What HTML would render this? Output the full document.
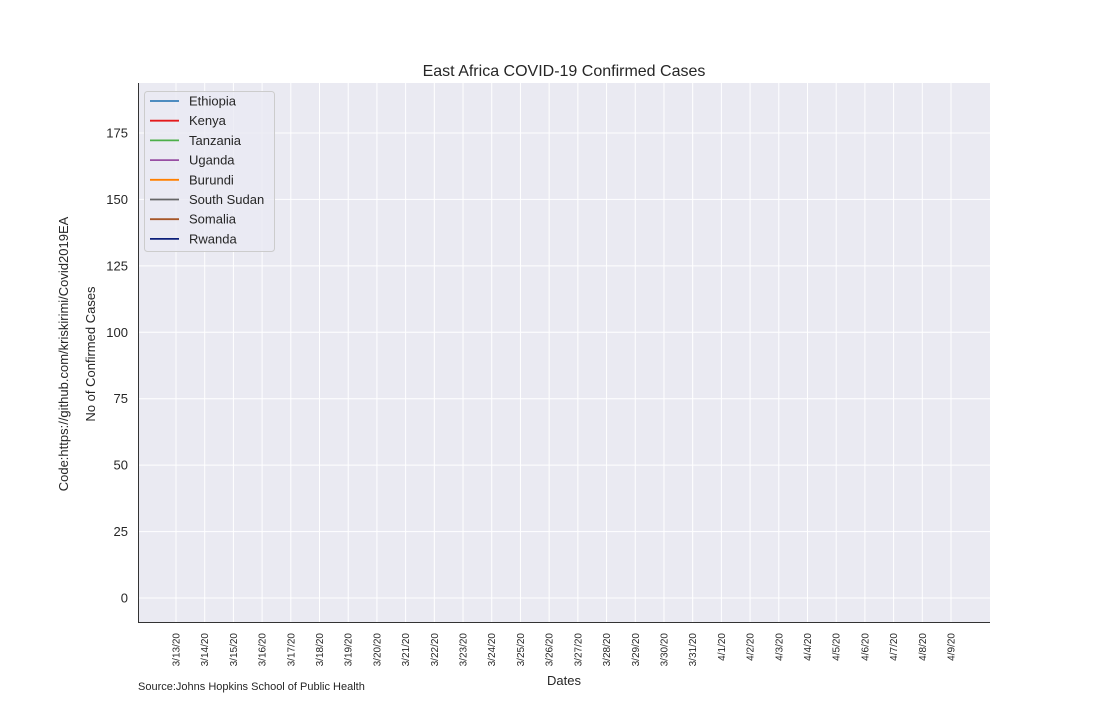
<!DOCTYPE html>
<html><head><meta charset="utf-8"><style>
body{margin:0;background:#fff;}
svg{font-family:"Liberation Sans",Arial,sans-serif;}
</style></head><body>
<svg id="chart" width="1100" height="700" viewBox="0 0 1100 700" xmlns="http://www.w3.org/2000/svg">
<rect x="138" y="83" width="852" height="540" fill="#eaeaf2"/>
<g id="grid"></g>
<g id="series"></g>
<line x1="138.5" y1="83" x2="138.5" y2="623" stroke="#333" stroke-width="1"/>
<line x1="138" y1="622.5" x2="990" y2="622.5" stroke="#333" stroke-width="1"/>
<g id="yticks" font-size="13" fill="#262626"></g>
<g id="xticks" font-size="10" fill="#262626"></g>
<text x="564" y="76" text-anchor="middle" font-size="16" fill="#262626">East Africa COVID-19 Confirmed Cases</text>
<text x="564" y="685" text-anchor="middle" font-size="13" fill="#262626">Dates</text>
<text transform="translate(95,354) rotate(-90)" text-anchor="middle" font-size="13" fill="#262626">No of Confirmed Cases</text>
<text transform="translate(68,354) rotate(-90)" text-anchor="middle" font-size="13" fill="#262626">Code:https://github.com/kriskirimi/Covid2019EA</text>
<text x="138" y="690" font-size="11" fill="#262626">Source:Johns Hopkins School of Public Health</text>
<g id="legend">
<rect x="144.5" y="91.5" width="130" height="160" rx="3" fill="#eaeaf2" fill-opacity="0.8" stroke="#cccccc"/>
</g>
</svg>
<script>
const dates=["3/13/20","3/14/20","3/15/20","3/16/20","3/17/20","3/18/20","3/19/20","3/20/20","3/21/20","3/22/20","3/23/20","3/24/20","3/25/20","3/26/20","3/27/20","3/28/20","3/29/20","3/30/20","3/31/20","4/1/20","4/2/20","4/3/20","4/4/20","4/5/20","4/6/20","4/7/20","4/8/20","4/9/20"];
const yTicks=[0,25,50,75,100,125,150,175];
const countries=["Ethiopia","Kenya","Tanzania","Uganda","Burundi","South Sudan","Somalia","Rwanda"];
const colors=["#377eb8","#e41a1c","#4daf4a","#984ea3","#ff7f00","#666666","#a65628","#0c1f7a"];
const ethiopia=[],kenya=[],tanzania=[],uganda=[],burundi=[],southSudan=[],somalia=[],rwanda=[];
const seriesValues=[ethiopia,kenya,tanzania,uganda,burundi,southSudan,somalia,rwanda];
const NS="http://www.w3.org/2000/svg";
const yMin=-9.4,yMax=193.8,plotTop=83,plotBottom=623;
const xPos=i=>176+i*(951-176)/(dates.length-1);
const yPos=v=>plotBottom-(v-yMin)/(yMax-yMin)*(plotBottom-plotTop);
const grid=document.getElementById('grid'),yt=document.getElementById('yticks'),xt=document.getElementById('xticks');
function mk(t,a,p){const e=document.createElementNS(NS,t);for(const k in a)e.setAttribute(k,a[k]);p.appendChild(e);return e;}
yTicks.forEach(v=>{
 const l=mk('line',{x1:138,x2:990,y1:yPos(v),y2:yPos(v),stroke:'#fff','stroke-width':1},grid);
 
 
 const t=mk('text',{x:128,y:yPos(v)+4.5,'text-anchor':'end'},yt);t.textContent=v;
 
 
});
dates.forEach((d,i)=>{
 const l=mk('line',{x1:xPos(i),x2:xPos(i),y1:plotTop,y2:plotBottom,stroke:'#fff','stroke-width':1},grid);
 
 
 const t=mk('text',{transform:`translate(${xPos(i)+3.5},633) rotate(-90)`,'text-anchor':'end'},xt);t.textContent=d;
 
 
});
const sg=document.getElementById('series');
seriesValues.forEach((vals,s)=>{
 if(!vals.length)return;
 const p=mk('polyline',{points:vals.map((v,i)=>xPos(i)+','+yPos(v)).join(' '),fill:'none',stroke:colors[s],'stroke-width':1.5},sg);
 
 
});
const lg=document.getElementById('legend');
countries.forEach((c,i)=>{
 const yy=101+i*19.7;
 const l=mk('line',{x1:150,x2:179,y1:yy,y2:yy,stroke:colors[i],'stroke-width':1.8},lg);
 
 
 const t=mk('text',{x:189,y:yy+4.5,'font-size':13,fill:'#262626'},lg);t.textContent=c;
 
 
});
</script>
</body></html>
